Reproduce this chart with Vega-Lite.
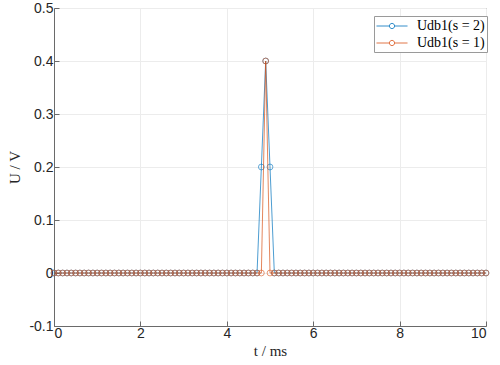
{
  "$schema": "https://vega.github.io/schema/vega-lite/v6.json",
  "autosize": "none",
  "width": 432,
  "height": 318,
  "padding": {"left": 54, "top": 8, "right": 14, "bottom": 39},
  "background": "white",
  "config": {
    "view": {"stroke": "#6a6a6a", "strokeWidth": 1},
    "axis": {
      "domainColor": "#6a6a6a",
      "tickColor": "#6a6a6a",
      "labelColor": "#262626",
      "titleColor": "#262626",
      "labelFont": "Liberation Sans",
      "labelFontSize": 13,
      "titleFont": "Liberation Serif",
      "titleFontSize": 15,
      "titleFontWeight": "normal",
      "gridColor": "#ececec",
      "gridWidth": 1,
      "tickSize": -5
    },
    "legend": {
      "orient": "none",
      "legendX": 320,
      "legendY": 8,
      "strokeColor": "#9a9a9a",
      "fillColor": "white",
      "padding": 2,
      "rowPadding": 2,
      "title": null,
      "symbolType": "M-2.07,0L-0.37,0M0.37,0L2.07,0M-0.35,0A0.35,0.35 0 1,1 0.35,0A0.35,0.35 0 1,1 -0.35,0",
      "symbolSize": 225,
      "symbolOffset": 8,
      "symbolStrokeWidth": 0.8,
      "symbolFillColor": "transparent",
      "labelFont": "Liberation Serif",
      "labelFontSize": 14,
      "labelColor": "#000000",
      "labelOffset": 17
    }
  },
  "data": {
    "values": [
      {"t":0,"b":0,"o":0},{"t":0.1,"b":0,"o":0},{"t":0.2,"b":0,"o":0},{"t":0.3,"b":0,"o":0},{"t":0.4,"b":0,"o":0},
      {"t":0.5,"b":0,"o":0},{"t":0.6,"b":0,"o":0},{"t":0.7,"b":0,"o":0},{"t":0.8,"b":0,"o":0},{"t":0.9,"b":0,"o":0},
      {"t":1.0,"b":0,"o":0},{"t":1.1,"b":0,"o":0},{"t":1.2,"b":0,"o":0},{"t":1.3,"b":0,"o":0},{"t":1.4,"b":0,"o":0},
      {"t":1.5,"b":0,"o":0},{"t":1.6,"b":0,"o":0},{"t":1.7,"b":0,"o":0},{"t":1.8,"b":0,"o":0},{"t":1.9,"b":0,"o":0},
      {"t":2.0,"b":0,"o":0},{"t":2.1,"b":0,"o":0},{"t":2.2,"b":0,"o":0},{"t":2.3,"b":0,"o":0},{"t":2.4,"b":0,"o":0},
      {"t":2.5,"b":0,"o":0},{"t":2.6,"b":0,"o":0},{"t":2.7,"b":0,"o":0},{"t":2.8,"b":0,"o":0},{"t":2.9,"b":0,"o":0},
      {"t":3.0,"b":0,"o":0},{"t":3.1,"b":0,"o":0},{"t":3.2,"b":0,"o":0},{"t":3.3,"b":0,"o":0},{"t":3.4,"b":0,"o":0},
      {"t":3.5,"b":0,"o":0},{"t":3.6,"b":0,"o":0},{"t":3.7,"b":0,"o":0},{"t":3.8,"b":0,"o":0},{"t":3.9,"b":0,"o":0},
      {"t":4.0,"b":0,"o":0},{"t":4.1,"b":0,"o":0},{"t":4.2,"b":0,"o":0},{"t":4.3,"b":0,"o":0},{"t":4.4,"b":0,"o":0},
      {"t":4.5,"b":0,"o":0},{"t":4.6,"b":0,"o":0},{"t":4.7,"b":0,"o":0},{"t":4.8,"b":0.2,"o":0},{"t":4.9,"b":0.4,"o":0.4},
      {"t":5.0,"b":0.2,"o":0},{"t":5.1,"b":0,"o":0},{"t":5.2,"b":0,"o":0},{"t":5.3,"b":0,"o":0},{"t":5.4,"b":0,"o":0},
      {"t":5.5,"b":0,"o":0},{"t":5.6,"b":0,"o":0},{"t":5.7,"b":0,"o":0},{"t":5.8,"b":0,"o":0},{"t":5.9,"b":0,"o":0},
      {"t":6.0,"b":0,"o":0},{"t":6.1,"b":0,"o":0},{"t":6.2,"b":0,"o":0},{"t":6.3,"b":0,"o":0},{"t":6.4,"b":0,"o":0},
      {"t":6.5,"b":0,"o":0},{"t":6.6,"b":0,"o":0},{"t":6.7,"b":0,"o":0},{"t":6.8,"b":0,"o":0},{"t":6.9,"b":0,"o":0},
      {"t":7.0,"b":0,"o":0},{"t":7.1,"b":0,"o":0},{"t":7.2,"b":0,"o":0},{"t":7.3,"b":0,"o":0},{"t":7.4,"b":0,"o":0},
      {"t":7.5,"b":0,"o":0},{"t":7.6,"b":0,"o":0},{"t":7.7,"b":0,"o":0},{"t":7.8,"b":0,"o":0},{"t":7.9,"b":0,"o":0},
      {"t":8.0,"b":0,"o":0},{"t":8.1,"b":0,"o":0},{"t":8.2,"b":0,"o":0},{"t":8.3,"b":0,"o":0},{"t":8.4,"b":0,"o":0},
      {"t":8.5,"b":0,"o":0},{"t":8.6,"b":0,"o":0},{"t":8.7,"b":0,"o":0},{"t":8.8,"b":0,"o":0},{"t":8.9,"b":0,"o":0},
      {"t":9.0,"b":0,"o":0},{"t":9.1,"b":0,"o":0},{"t":9.2,"b":0,"o":0},{"t":9.3,"b":0,"o":0},{"t":9.4,"b":0,"o":0},
      {"t":9.5,"b":0,"o":0},{"t":9.6,"b":0,"o":0},{"t":9.7,"b":0,"o":0},{"t":9.8,"b":0,"o":0},{"t":9.9,"b":0,"o":0},
      {"t":10.0,"b":0,"o":0}
    ]
  },
  "transform": [
    {"fold": ["b", "o"], "as": ["series", "U"]}
  ],
  "encoding": {
    "x": {
      "field": "t", "type": "quantitative",
      "scale": {"domain": [0, 10], "nice": false, "zero": false},
      "axis": {"values": [0, 2, 4, 6, 8, 10], "title": "t / ms", "titlePadding": 3, "labelPadding": 5, "labelFontSize": 14, "labelFont": "Liberation Sans"}
    },
    "y": {
      "field": "U", "type": "quantitative",
      "scale": {"domain": [-0.1, 0.5], "nice": false},
      "axis": {
        "values": [-0.1, 0, 0.1, 0.2, 0.3, 0.4, 0.5],
        "labelExpr": "datum.value < -0.05 ? '-0.1' : format(datum.value, '.1~f')",
        "title": "U / V",
        "titlePadding": 6,
        "labelPadding": 6,
        "labelFontSize": 14,
        "labelFont": "Liberation Sans"
      }
    },
    "color": {
      "field": "series", "type": "nominal",
      "scale": {"domain": ["b", "o"], "range": ["#0072BD", "#D95319"]},
      "legend": {"labelExpr": "datum.value == 'b' ? 'Udb1(s = 2)' : 'Udb1(s = 1)'"}
    }
  },
  "layer": [
    {"transform": [{"filter": "datum.series == 'b'"}], "mark": {"type": "line", "strokeWidth": 0.7}},
    {"transform": [{"filter": "datum.series == 'b'"}], "mark": {"type": "point", "shape": "circle", "filled": false, "size": 34, "strokeWidth": 0.6, "opacity": 1}},
    {"transform": [{"filter": "datum.series == 'o'"}], "mark": {"type": "line", "strokeWidth": 0.7}},
    {"transform": [{"filter": "datum.series == 'o'"}], "mark": {"type": "point", "shape": "circle", "filled": false, "size": 34, "strokeWidth": 0.6, "opacity": 1}}
  ]
}
